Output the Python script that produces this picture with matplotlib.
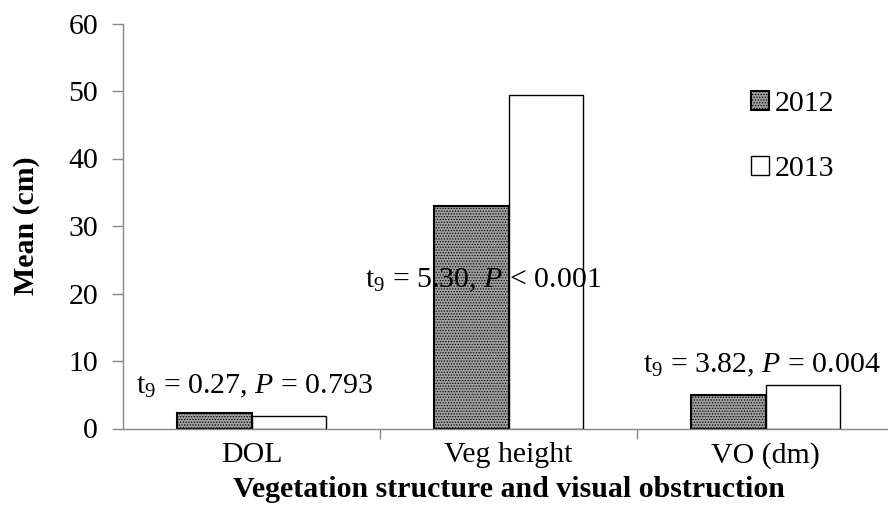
import numpy as np
import matplotlib
matplotlib.use("Agg")
import matplotlib.pyplot as plt

# data
categories = ["DOL", "Veg height", "VO (dm)"]
mean_2012 = [2.3, 32.9, 4.9]
mean_2013 = [1.9, 49.4, 6.4]
stats_text = [r"t$_9$ = 0.27, $\it{P}$ = 0.793",
              r"t$_9$ = 5.30, $\it{P}$ < 0.001",
              r"t$_9$ = 3.82, $\it{P}$ = 0.004"]
stats_pos = [(0.01, 6.3), (0.9, 22.0), (1.985, 9.3)]

plt.rcParams["font.family"] = "Liberation Serif"
plt.rcParams["mathtext.fontset"] = "custom"
plt.rcParams["mathtext.rm"] = "Liberation Serif"
plt.rcParams["mathtext.it"] = "Liberation Serif:italic"
plt.rcParams["hatch.linewidth"] = 0.6
plt.rcParams["hatch.color"] = "#333333"

fs = 21.5
fig = plt.figure(figsize=(8.88, 5.29), dpi=100)
ax = fig.add_axes([123 / 888, 100.5 / 529, 771 / 888, 405 / 529])

x = np.arange(len(categories))
w = 0.29
ax.bar(x - w / 2, mean_2012, w, facecolor="#a0a0a0", edgecolor="black",
       linewidth=1.5, hatch="......", label="2012")
ax.bar(x + w / 2, mean_2013, w, facecolor="white", edgecolor="black",
       linewidth=1.0, label="2013")

for txt, (tx, ty) in zip(stats_text, stats_pos):
    ax.text(tx, ty, txt, fontsize=fs, ha="center", va="center")

ax.set_xlim(-0.5, 2.5)
ax.set_ylim(0, 60)
ax.set_yticks(range(0, 61, 10))
ax.set_xticks(x)
ax.set_xticklabels(categories, fontsize=fs)
ax.set_xticks([0.5, 1.5, 2.5], minor=True)
ax.tick_params(axis="x", which="major", length=0, pad=10)
ax.tick_params(axis="x", which="minor", length=7, width=1, color="#888888")
ax.tick_params(axis="y", length=8, width=1, color="#888888", labelsize=fs, pad=10)

for s in ["top", "right"]:
    ax.spines[s].set_visible(False)
for s in ["left", "bottom"]:
    ax.spines[s].set_color("#888888")
    ax.spines[s].set_linewidth(1)

ax.set_xlabel("Vegetation structure and visual obstruction", fontsize=fs,
              fontweight="bold", labelpad=5)
ax.set_ylabel("Mean (cm)", fontsize=fs, fontweight="bold", labelpad=20)

ax.legend(loc="upper left", bbox_to_anchor=(0.78, 0.90), frameon=False,
          fontsize=fs, handlelength=0.6, handleheight=0.6,
          handletextpad=0.2, labelspacing=1.3)

fig.savefig("out.png", dpi=100)
